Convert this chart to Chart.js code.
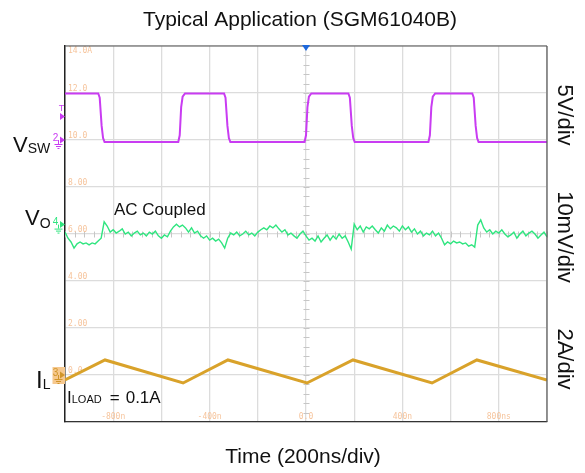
<!DOCTYPE html>
<html>
<head>
<meta charset="utf-8">
<script src="https://cdn.jsdelivr.net/npm/chart.js@4.4.1/dist/chart.umd.min.js"></script>
<style>
  body { margin: 0; background: #fff; }
  canvas { display: block; }
</style>
</head>
<body>
<canvas id="scope" width="585" height="473"></canvas>
<script>
// switch node (ns, V)
const vswTime = [-1000, -862, -856, -848, -842, -836, -530, -524, -518, -512, -502,
  -340, -334, -326, -320, -314, -6, 0, 6, 12, 22,
  176, 182, 190, 196, 202, 508, 514, 520, 526, 536,
  690, 696, 704, 710, 716, 1000];
const vswVolts = [4.95, 4.95, 4.5, 1.5, 0.2, -0.2, -0.2, 0.5, 3.5, 4.6, 4.95,
  4.95, 4.5, 1.5, 0.2, -0.2, -0.2, 0.5, 3.5, 4.6, 4.95,
  4.95, 4.5, 1.5, 0.2, -0.2, -0.2, 0.5, 3.5, 4.6, 4.95,
  4.95, 4.5, 1.5, 0.2, -0.2, -0.2];

// inductor current (ns, A)
const ilTime = [-1000, -834, -510, -324, 4, 195, 523, 709, 1000];
const ilAmps = [-0.21, 0.64, -0.34, 0.64, -0.34, 0.64, -0.34, 0.64, -0.21];

// output ripple, AC coupled (mV), one sample every 12.5 ns from -1000 ns
const voStart = -1000;
const voStep = 12.5;
const voMilliVolts = [
  -1.6, -2.9, -3.7, -5.0, -4.1, -3.7, -4.1, -3.9, -4.3, -3.9,
  -4.1, -3.5, -2.9, 0.6, -0.3, -1.6, -1.1, -1.8, -1.4, -0.9,
  -2.0, -1.6, -2.4, -1.8, -1.4, -2.2, -1.8, -2.4, -1.6, -2.0,
  -1.4, -2.4, -2.9, -2.2, -2.6, -1.4, -0.5, 0.1, -0.5, -0.1,
  -0.7, -1.6, -0.7, -1.8, -1.4, -2.4, -2.9, -2.4, -3.3, -2.9,
  -3.5, -3.1, -3.9, -5.0, -2.9, -1.8, -2.2, -1.6, -2.4, -2.0,
  -1.4, -2.2, -1.8, -2.4, -1.6, -1.1, -0.7, -1.1, -0.3, -0.7,
  -0.1, -0.9, -1.6, -1.1, -2.2, -1.8, -2.4, -2.9, -2.0, -1.4,
  -2.4, -3.3, -2.9, -3.5, -2.4, -3.7, -2.9, -2.2, -3.3, -2.4,
  -3.1, -2.0, -2.9, -2.4, -3.7, -5.2, 0.1, -1.1, -0.3, -1.6,
  -0.5, -0.9, -0.3, -1.1, -1.8, -0.7, -1.4, -0.1, -0.9, -0.3,
  -0.7, -1.4, -0.3, -1.1, -0.5, -1.6, -0.9, -2.0, -1.4, -2.4,
  -1.8, -2.2, -1.4, -2.4, -1.8, -2.9, -4.3, -3.7, -4.1, -3.5,
  -3.9, -3.7, -4.1, -3.9, -4.6, -4.3, -4.8, -0.1, 1.0, -0.7,
  -1.6, -1.1, -2.0, -1.4, -1.8, -1.1, -2.0, -2.6, -2.2, -1.6,
  -2.9, -2.0, -1.4, -2.4, -1.8, -1.4, -2.0, -2.9, -2.2, -1.6,
  -2.6
];

const xTickValues = [-800, -400, 0, 400, 800];
const xTickLabels = ['-800n', '-400n', '0.0', '400n', '800ns'];
const yTickValues = [0, 2, 4, 6, 8, 10, 12, 14];
const yTickLabels = ['0.0', '2.00', '4.00', '6.00', '8.00', '10.0', '12.0', '14.0A'];
const triggerLevel = 2.5;

const VSW_COLOR = '#C93CF2';
const VO_COLOR = '#2FE57F';
const IL_COLOR = '#D9A22A';
const GRID = '#dcdcdc';
const FONT = '"Liberation Sans", Arial, sans-serif';

const vswPoints = vswTime.map((t, i) => ({ x: t, y: vswVolts[i] }));
const ilPoints = ilTime.map((t, i) => ({ x: t, y: ilAmps[i] }));
const voPoints = voMilliVolts.map((v, i) => ({ x: voStart + i * voStep, y: v }));

function line(ctx, x1, y1, x2, y2) {
  ctx.beginPath();
  ctx.moveTo(x1, y1);
  ctx.lineTo(x2, y2);
  ctx.stroke();
}

// channel marker on the left edge: number, ground symbol and arrow
function drawMarker(ctx, label, color, left, py, boxed) {
  ctx.save();
  if (boxed) {
    ctx.fillStyle = '#F6C88E';
    ctx.fillRect(left - 12.5, py - 8, 12.5, 17);
  }
  ctx.fillStyle = color;
  ctx.strokeStyle = color;
  ctx.lineWidth = 1;
  ctx.font = '10px ' + FONT;
  ctx.textAlign = 'center';
  ctx.textBaseline = 'middle';
  ctx.fillText(label, left - 9.5, py - 2);
  ctx.beginPath();
  ctx.moveTo(left - 5, py - 3.5);
  ctx.lineTo(left - 5, py + 3.5);
  ctx.lineTo(left, py);
  ctx.closePath();
  ctx.fill();
  const gx = left - 7;
  line(ctx, gx + 0.5, py, gx + 0.5, py + 4);
  line(ctx, gx - 3.5, py + 4.5, gx + 4.5, py + 4.5);
  line(ctx, gx - 2, py + 6.5, gx + 3, py + 6.5);
  line(ctx, gx - 0.5, py + 8.5, gx + 1.5, py + 8.5);
  ctx.restore();
}

function subText(ctx, main, sub, x, y, mainSize, subSize, subDrop) {
  ctx.font = mainSize + 'px ' + FONT;
  ctx.fillText(main, x, y);
  const w = ctx.measureText(main).width;
  ctx.font = subSize + 'px ' + FONT;
  ctx.fillText(sub, x + w, y + subDrop);
  return x + w + ctx.measureText(sub).width;
}

const scopeDecor = {
  id: 'scopeDecor',
  beforeDatasetsDraw(chart) {
    const { ctx, chartArea: a, scales } = chart;
    const x = scales.x, yI = scales.yI;
    ctx.save();
    // minor ticks along the centre lines
    ctx.strokeStyle = '#c6c6c6';
    ctx.lineWidth = 1;
    const xc = Math.round(x.getPixelForValue(0)) + 0.5;
    const yc = Math.round(yI.getPixelForValue(6)) + 0.5;
    for (let v = -2; v <= 14.001; v += 0.4) {
      const py = Math.round(yI.getPixelForValue(v)) + 0.5;
      line(ctx, xc - 3, py, xc + 3, py);
    }
    for (let t = -1000; t <= 1000; t += 40) {
      const px = Math.round(x.getPixelForValue(t)) + 0.5;
      line(ctx, px, yc - 3, px, yc + 3);
    }
    // scale readouts
    ctx.font = '8px "DejaVu Sans Mono", monospace';
    ctx.fillStyle = '#F6C49C';
    ctx.textAlign = 'left';
    ctx.textBaseline = 'middle';
    yTickValues.forEach((v, i) => {
      const py = yI.getPixelForValue(v);
      const dy = v === yI.max ? 5 : -4;
      ctx.fillText(yTickLabels[i], a.left + 3, py + dy);
    });
    ctx.textAlign = 'center';
    xTickValues.forEach((t, i) => {
      ctx.fillText(xTickLabels[i], x.getPixelForValue(t), a.bottom - 5);
    });
    ctx.restore();
  },
  afterDatasetsDraw(chart) {
    const { ctx, chartArea: a, scales } = chart;
    ctx.save();
    ctx.strokeStyle = '#555';
    ctx.lineWidth = 1.2;
    line(ctx, a.left, a.top, a.right, a.top);
    line(ctx, a.right, a.top, a.right, a.bottom);
    // trigger position
    const xc = scales.x.getPixelForValue(0);
    ctx.fillStyle = '#1E68DC';
    ctx.beginPath();
    ctx.moveTo(xc - 4, a.top - 1);
    ctx.lineTo(xc + 4, a.top - 1);
    ctx.lineTo(xc, a.top + 5);
    ctx.closePath();
    ctx.fill();
    // trigger level
    const ty = scales.yV.getPixelForValue(triggerLevel);
    ctx.fillStyle = VSW_COLOR;
    ctx.font = '9px ' + FONT;
    ctx.textAlign = 'center';
    ctx.textBaseline = 'middle';
    ctx.fillText('T', a.left - 3.5, ty - 8);
    ctx.beginPath();
    ctx.moveTo(a.left - 5, ty - 3.5);
    ctx.lineTo(a.left - 5, ty + 3.5);
    ctx.lineTo(a.left, ty);
    ctx.closePath();
    ctx.fill();
    ctx.restore();
    drawMarker(ctx, '2', VSW_COLOR, a.left, scales.yV.getPixelForValue(0), false);
    drawMarker(ctx, '4', VO_COLOR, a.left, scales.yO.getPixelForValue(0), false);
    drawMarker(ctx, '3', '#D1952A', a.left, scales.yI.getPixelForValue(0), true);
  },
  afterDraw(chart) {
    const { ctx } = chart;
    ctx.save();
    ctx.fillStyle = '#111';
    ctx.textBaseline = 'alphabetic';
    ctx.textAlign = 'center';
    ctx.font = '21px ' + FONT;
    ctx.fillText('Typical Application (SGM61040B)', 300, 26);
    ctx.fillText('Time (200ns/div)', 303, 463);

    // per-division labels on the right
    ctx.font = '22px ' + FONT;
    ctx.textBaseline = 'middle';
    [['5V/div', 115], ['10mV/div', 237], ['2A/div', 359]].forEach(([txt, cy]) => {
      ctx.save();
      ctx.translate(564, cy);
      ctx.rotate(Math.PI / 2);
      ctx.fillText(txt, 0, 0);
      ctx.restore();
    });

    ctx.textAlign = 'left';
    ctx.textBaseline = 'alphabetic';
    subText(ctx, 'V', 'SW', 13, 152, 22, 14, 1);
    subText(ctx, 'V', 'O', 25, 225, 22, 14, 3);
    subText(ctx, 'I', 'L', 36, 388, 24, 14, 1);

    ctx.font = '17px ' + FONT;
    ctx.fillText('AC Coupled', 114, 215);
    const end = subText(ctx, 'I', 'LOAD', 67, 403, 17, 11, 0);
    ctx.font = '17px ' + FONT;
    ctx.fillText('=', end + 8, 403);
    ctx.fillText('0.1A', end + 24, 403);
    ctx.restore();
  }
};

new Chart(document.getElementById('scope').getContext('2d'), {
  type: 'line',
  data: {
    datasets: [
      { label: 'VSW', data: vswPoints, yAxisID: 'yV', borderColor: VSW_COLOR, borderWidth: 2, pointRadius: 0, tension: 0 },
      { label: 'VO', data: voPoints, yAxisID: 'yO', borderColor: VO_COLOR, borderWidth: 1.4, pointRadius: 0, tension: 0 },
      { label: 'IL', data: ilPoints, yAxisID: 'yI', borderColor: IL_COLOR, borderWidth: 3, pointRadius: 0, tension: 0 }
    ]
  },
  options: {
    responsive: false,
    devicePixelRatio: 1,
    animation: false,
    layout: { padding: { left: 65, top: 46, right: 38, bottom: 51 } },
    plugins: { legend: { display: false }, tooltip: { enabled: false } },
    scales: {
      x: {
        type: 'linear', min: -1000, max: 1000,
        ticks: { stepSize: 200, display: false },
        grid: { color: GRID, lineWidth: 1.3, drawTicks: false },
        border: { color: '#333', width: 1.3 }
      },
      yI: {
        position: 'left', min: -2, max: 14,
        ticks: { stepSize: 2, display: false },
        grid: { color: GRID, lineWidth: 1.3, drawTicks: false },
        border: { color: '#222', width: 1.5 }
      },
      yV: { display: false, min: -30, max: 10 },
      yO: { display: false, min: -42, max: 38 }
    }
  },
  plugins: [scopeDecor]
});
</script>
</body>
</html>
